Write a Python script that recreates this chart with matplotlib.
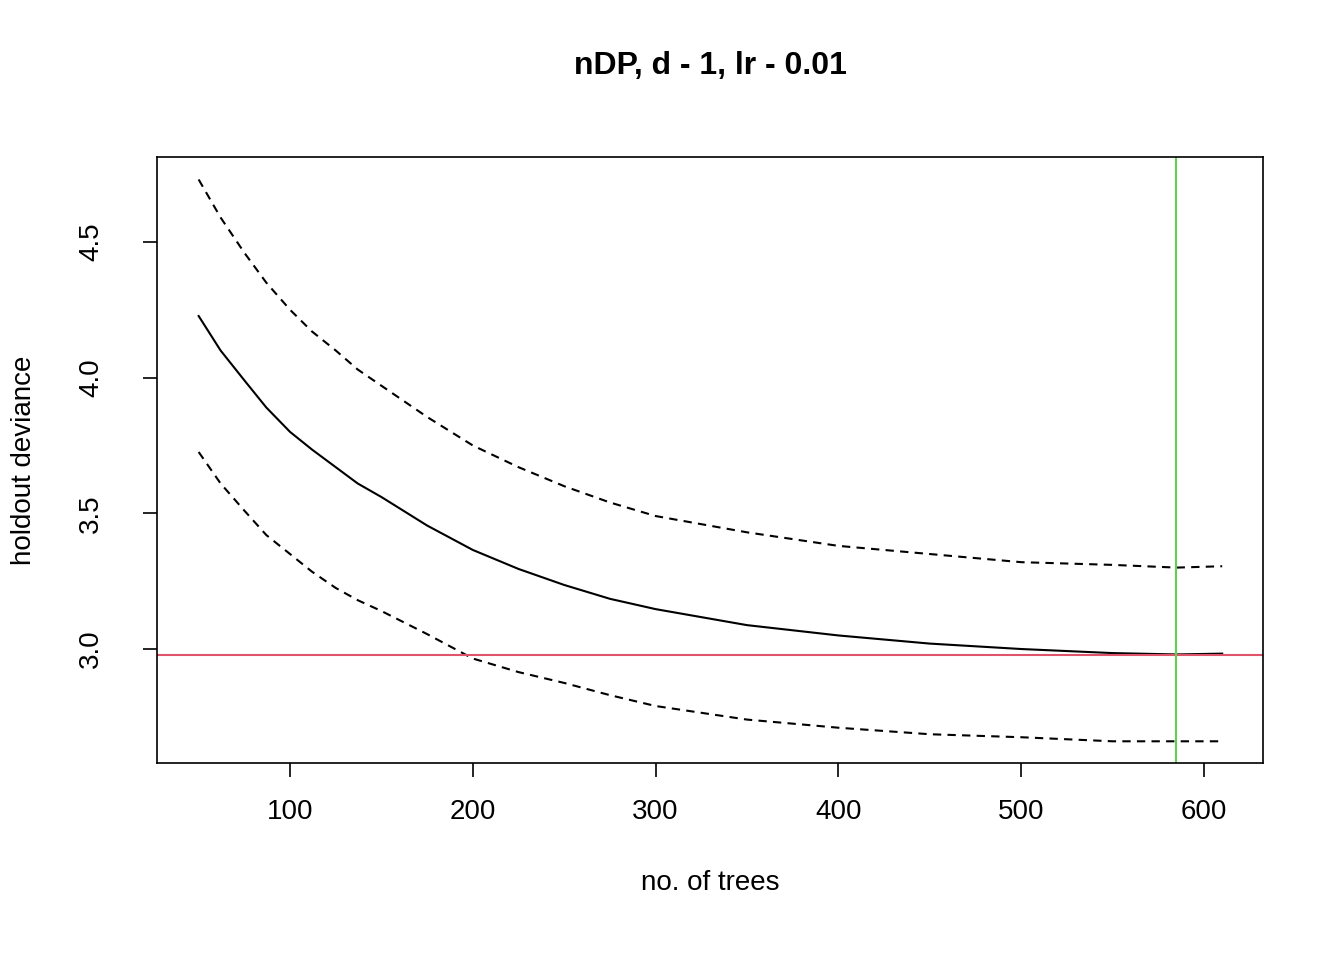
import matplotlib
matplotlib.use("Agg")
import matplotlib.pyplot as plt

plt.rcParams['font.family'] = ['Liberation Sans', 'DejaVu Sans']

trees = [50, 62, 75, 87, 100, 112, 125, 137, 150, 175, 200, 225, 250, 275, 300, 350, 400, 450, 500, 550, 585, 610]
mean_dev = [4.227, 4.10, 3.99, 3.89, 3.80, 3.735, 3.67, 3.61, 3.56, 3.455, 3.365, 3.295, 3.236, 3.185, 3.147, 3.088, 3.05, 3.02, 3.0, 2.985, 2.98, 2.983]
upper_dev = [4.73, 4.59, 4.46, 4.35, 4.25, 4.17, 4.10, 4.03, 3.97, 3.855, 3.75, 3.67, 3.60, 3.54, 3.49, 3.43, 3.38, 3.35, 3.32, 3.31, 3.30, 3.305]
lower_dev = [3.726, 3.61, 3.51, 3.42, 3.35, 3.285, 3.225, 3.18, 3.14, 3.055, 2.965, 2.915, 2.875, 2.83, 2.79, 2.74, 2.71, 2.686, 2.675, 2.66, 2.66, 2.66]
min_dev = 2.978
best_trees = 584.7

fig = plt.figure(figsize=(13.44, 9.6), dpi=100)
ax = fig.add_axes([0.1168, 0.2052, 0.8229, 0.6313])
ax.plot(trees, mean_dev, color='black', lw=1.5)
ax.plot(trees, upper_dev, color='black', lw=1.5, ls=(0, (4, 3)))
ax.plot(trees, lower_dev, color='black', lw=1.5, ls=(0, (4, 3)))
ax.axhline(min_dev, color='#DF536B', lw=1.5)
ax.axvline(best_trees, color='#61D04F', lw=1.5)
ax.set_xlim(27.2, 632.3)
ax.set_ylim(2.580, 4.813)
ax.set_xticks([100, 200, 300, 400, 500, 600])
ax.set_yticks([3.0, 3.5, 4.0, 4.5])
ax.set_yticklabels(['3.0', '3.5', '4.0', '4.5'], rotation=90, va='center')
ax.tick_params(direction='out', length=10, width=1.2, labelsize=20)
ax.tick_params(axis='x', pad=16)
ax.tick_params(axis='y', pad=28)
for s in ax.spines.values():
    s.set_linewidth(1.2)
ax.set_xlabel('no. of trees', fontsize=20, labelpad=32)
ax.set_ylabel('holdout deviance', fontsize=20, labelpad=30)
ax.set_title('nDP, d - 1, lr - 0.01', fontsize=23, fontweight='bold', pad=60)
fig.savefig('out.png', dpi=100)
